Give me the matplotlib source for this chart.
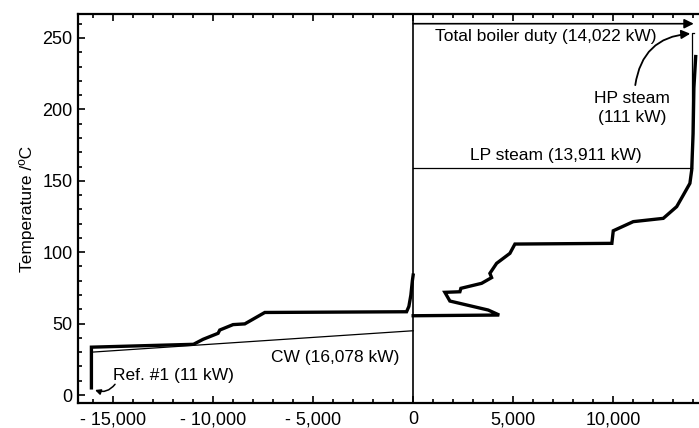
import matplotlib
matplotlib.use("Agg")
import matplotlib.pyplot as plt
from matplotlib.ticker import MultipleLocator

plt.rcParams['font.family'] = ['Liberation Sans', 'DejaVu Sans']

# hot side (heat rejected, plotted negative)
hot_q = [-16080, -16080, -10980, -10500, -9750, -9665, -9000, -8415, -7415,
         -330, -215, -115, -40, 0]
hot_T = [5, 33.5, 35.5, 39, 43.2, 45.5, 49.3, 49.8, 57.8,
         58.3, 62, 70, 80, 84]

# cold side (heat supplied)
cold_q = [0, 4300, 3750, 1835, 1585, 2335, 2385, 3420, 3920, 3835, 4170, 4835,
          5085, 9930, 10000, 11000, 12500, 13170, 13500, 13830, 13920, 13990,
          14030, 14120]
cold_T = [55.5, 56, 59.5, 65.8, 71.9, 72.3, 74.7, 78.2, 82.2, 85.2, 92.2, 99.2,
          105.7, 106.2, 115, 121.4, 123.7, 131.9, 140, 148.2, 157.5, 183,
          215, 237]

# utilities
cw_q = [-16078, 0]
cw_T = [30, 45]
lp_q = [0, 13911]
lp_T = [159, 159]
hp_q = [13911, 13911, 14022]
hp_T = [159, 253.5, 253.5]
boiler_duty = 14022
boiler_T = 260

xticks = [-15000, -10000, -5000, 0, 5000, 10000]
xticklabels = ['- 15,000', '- 10,000', '- 5,000', '0', '5,000', '10,000']

fig = plt.figure(figsize=(6.99, 4.28), dpi=100)
ax = fig.add_axes([0.1116, 0.0584, 0.8884, 0.9089])

ax.plot(hot_q, hot_T, color='black', lw=2.4, solid_joinstyle='miter')
ax.plot(cold_q, cold_T, color='black', lw=2.4, solid_joinstyle='miter')
ax.plot(cw_q, cw_T, color='black', lw=0.9)
ax.plot(lp_q, lp_T, color='black', lw=0.9)
ax.plot(hp_q, hp_T, color='black', lw=0.9)
ax.axvline(0, color='black', lw=1.2)

ax.annotate('', xy=(boiler_duty, boiler_T), xytext=(0, boiler_T),
            arrowprops=dict(arrowstyle='-|>', color='black', lw=1.2,
                            mutation_scale=14, shrinkA=0, shrinkB=0))

fs = 12.5
ax.text(6650, 251, 'Total boiler duty (14,022 kW)', ha='center', va='center', fontsize=fs)
ax.text(7150, 168, 'LP steam (13,911 kW)', ha='center', va='center', fontsize=fs)
ax.text(10950, 201, 'HP steam\n(111 kW)', ha='center', va='center', fontsize=fs,
        linespacing=1.4)
ax.text(-700, 26.6, 'CW (16,078 kW)', ha='right', va='center', fontsize=fs)
ax.text(-15000, 14, 'Ref. #1 (11 kW)', ha='left', va='center', fontsize=fs)

ax.annotate('', xy=(13850, 253), xytext=(11100, 217),
            arrowprops=dict(arrowstyle='-|>', color='black', lw=1.3,
                            mutation_scale=13, shrinkA=0, shrinkB=0,
                            connectionstyle='arc3,rad=-0.4'))
ax.annotate('', xy=(-15900, 3.5), xytext=(-14900, 7.5),
            arrowprops=dict(arrowstyle='-|>', color='black', lw=1.1,
                            mutation_scale=8, shrinkA=0, shrinkB=0,
                            connectionstyle='arc3,rad=-0.35'))

ax.set_xlim(-16750, 14285)
ax.set_ylim(-5.6, 266.8)
ax.set_xticks(xticks)
ax.set_xticklabels(xticklabels)
ax.xaxis.set_minor_locator(MultipleLocator(1000))
ax.yaxis.set_major_locator(MultipleLocator(50))
ax.yaxis.set_minor_locator(MultipleLocator(10))
ax.tick_params(which='both', direction='in', top=True, right=False, width=1.2,
               labelsize=13)
ax.tick_params(which='major', length=5)
ax.tick_params(which='minor', length=3)
ax.tick_params(axis='x', pad=6)
ax.tick_params(axis='y', pad=4)
for s in ['left', 'bottom', 'top']:
    ax.spines[s].set_linewidth(1.6)
ax.spines['right'].set_visible(False)

ax.set_ylabel('Temperature /ºC', fontsize=12.5, labelpad=5)

fig.savefig('out.png', dpi=100)
